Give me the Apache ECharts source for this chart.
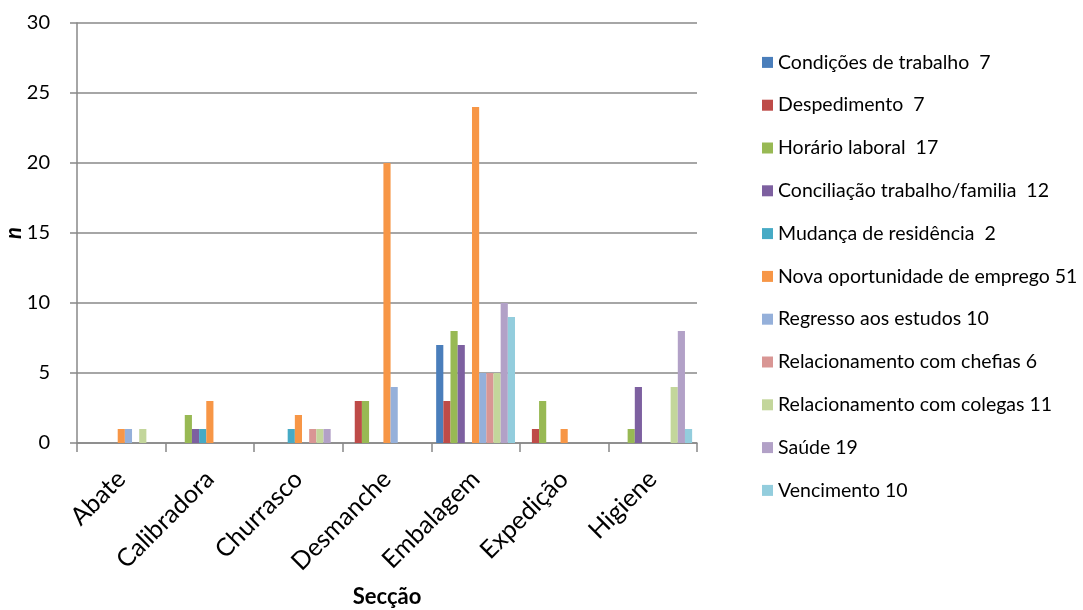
<!DOCTYPE html>
<html>
<head>
<meta charset="utf-8">
<script src="https://cdn.jsdelivr.net/npm/echarts@6/dist/echarts.min.js"></script>
<style>
  html, body { margin: 0; padding: 0; background: #ffffff; }
  #chart { width: 1083px; height: 610px; }
</style>
</head>
<body>
<div id="chart"></div>
<script>
// Sections (x axis)
const categories = ['Abate', 'Calibradora', 'Churrasco', 'Desmanche', 'Embalagem', 'Expedição', 'Higiene'];

// Reasons, one series each (counts per section)
const condicoesTrabalho   = [0, 0, 0, 0, 7, 0, 0];
const despedimento        = [0, 0, 0, 3, 3, 1, 0];
const horarioLaboral      = [0, 2, 0, 3, 8, 3, 1];
const conciliacao         = [0, 1, 0, 0, 7, 0, 4];
const mudancaResidencia   = [0, 1, 1, 0, 0, 0, 0];
const novaOportunidade    = [1, 3, 2, 20, 24, 1, 0];
const regressoEstudos     = [1, 0, 0, 4, 5, 0, 0];
const relChefias          = [0, 0, 1, 0, 5, 0, 0];
const relColegas          = [1, 0, 1, 0, 5, 0, 4];
const saude               = [0, 0, 1, 0, 10, 0, 8];
const vencimento          = [0, 0, 0, 0, 9, 0, 1];

const seriesNames = [
  'Condições de trabalho  7',
  'Despedimento  7',
  'Horário laboral  17',
  'Conciliação trabalho/familia  12',
  'Mudança de residência  2',
  'Nova oportunidade de emprego 51',
  'Regresso aos estudos 10',
  'Relacionamento com chefias 6',
  'Relacionamento com colegas 11',
  'Saúde 19',
  'Vencimento 10'
];
const seriesData = [
  condicoesTrabalho, despedimento, horarioLaboral, conciliacao, mudancaResidencia,
  novaOportunidade, regressoEstudos, relChefias, relColegas, saude, vencimento
];
const colors = [
  '#4A7EBB', '#BE4B48', '#98B954', '#7D60A0', '#46AAC5', '#F79646',
  '#95B0DA', '#D99694', '#C3D69B', '#B2A1C7', '#93CDDD'
];

const FONT = 'Lato, "Open Sans", sans-serif';
const axisGray = '#888888';

const chart = echarts.init(document.getElementById('chart'), null, { renderer: 'canvas' });

chart.setOption({
  animation: false,
  backgroundColor: '#ffffff',
  color: colors,
  textStyle: { fontFamily: FONT, color: '#000000' },
  grid: { left: 77, right: 386, top: 23, bottom: 167, containLabel: false, outerBoundsMode: 'none' },
  legend: {
    orient: 'vertical',
    left: 757,
    top: 46,
    itemWidth: 11,
    itemHeight: 11,
    itemGap: 20,
    icon: 'rect',
    textStyle: { fontFamily: FONT, fontSize: 19.5, color: '#000000', lineHeight: 22.8 },
    data: seriesNames
  },
  xAxis: {
    type: 'category',
    data: categories,
    name: 'Secção',
    nameLocation: 'middle',
    nameGap: 143,
    nameMoveOverlap: false,
    nameTextStyle: { fontFamily: FONT, fontSize: 22, fontWeight: 'bold', color: '#000000' },
    axisLine: { lineStyle: { color: axisGray, width: 1.5 } },
    axisTick: { show: true, length: 9, lineStyle: { color: axisGray, width: 1.5 } },
    axisLabel: { rotate: 45, fontSize: 25, color: '#000000', margin: 32, interval: 0 },
    splitLine: { show: false }
  },
  yAxis: {
    type: 'value',
    min: 0,
    max: 30,
    interval: 5,
    name: 'n',
    nameLocation: 'middle',
    nameGap: 52,
    nameMoveOverlap: false,
    nameTextStyle: { fontFamily: FONT, fontSize: 22, fontWeight: 'bold', fontStyle: 'italic', color: '#000000' },
    axisLine: { show: true, lineStyle: { color: axisGray, width: 1.5 } },
    axisTick: { show: true, length: 7, lineStyle: { color: axisGray, width: 1.5 } },
    axisLabel: { fontSize: 20, color: '#000000', margin: 27 },
    splitLine: { show: true, lineStyle: { color: axisGray, width: 1.5 } }
  },
  series: seriesNames.map((name, i) => ({
    name: name,
    type: 'bar',
    data: seriesData[i],
    barGap: '0%',
    barCategoryGap: '11%',
    itemStyle: { color: colors[i] }
  }))
});
</script>
</body>
</html>
